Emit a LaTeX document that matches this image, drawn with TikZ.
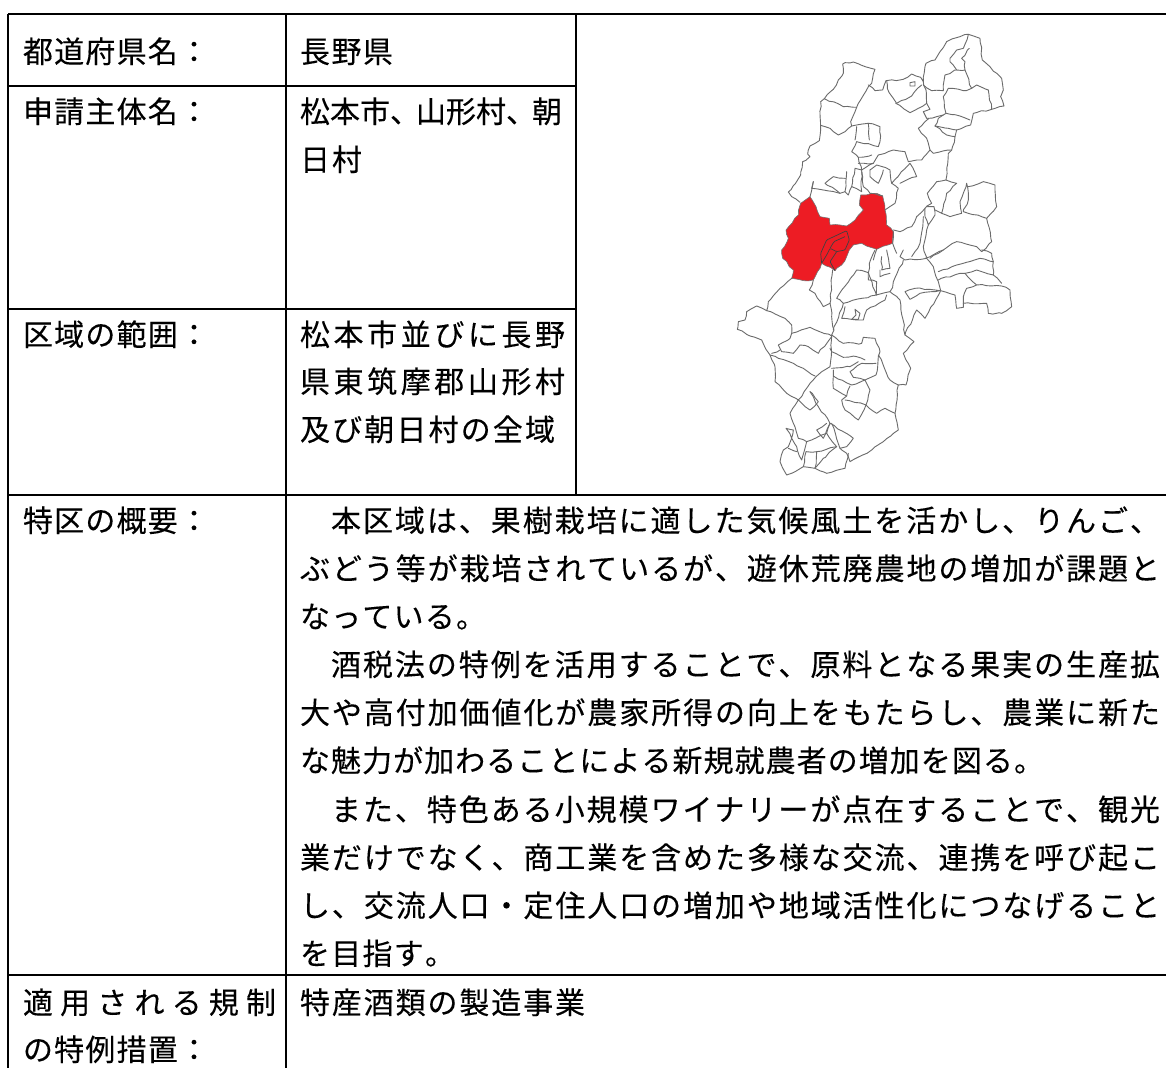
\documentclass[tikz,border=0pt]{standalone}
\usepackage{fontspec}
\usetikzlibrary{decorations.pathmorphing}
\setmainfont[FakeBold=0.2]{Noto Sans CJK JP}
\makeatletter
\def\jspread#1{\let\jsep\relax\@tfor\ch:=#1\do{\jsep\ch\let\jsep\hfil}}
\makeatother
\newcommand\jt[2]{\hbox to #1pt{\jspread{#2}}}
\tikzset{
  rule/.style={line width=2.2pt,black},
  txt/.style={anchor=base west,inner sep=0pt,outer sep=0pt,yshift=-0.7pt,font=\fontsize{30}{31}\selectfont,text=black},
  wob/.style={decorate,decoration={random steps,segment length=5pt,amplitude=0.8pt}},
  ward/.style={line width=0.9pt,black!58,line join=round,line cap=round,wob},
  redward/.style={line width=0.7pt,black!75,line join=round,rounded corners=1pt},
  redarea/.style={fill={rgb,255:red,237;green,28;blue,36},draw=black!55,line width=0.6pt,line join=round,wob},
}
\pgfmathsetseed{7}
\begin{document}
\begin{tikzpicture}[x=1pt,y=-1pt]
\useasboundingbox (0,0) rectangle (1166,1068);
\fill[white] (0,0) rectangle (1166,1068);

% ---- map (coordinates of a 3x grid) ----
\begin{scope}[shift={(730,20)},x=0.3333pt,y=-0.3333pt]
\path[redarea] (240,530)--(258,560)--(270,590)--(298,595)--(300,615)--(350,618)--(375,600)--(400,570)--(388,555)--(392,525)--(440,520)--(458,528)--(465,570)--(470,615)--(490,635)--(488,670)--(440,688)--(395,670)--(370,675)--(358,690)--(350,710)--(335,735)--(315,752)--(275,730)--(250,780)--(220,782)--(185,775)--(190,750)--(158,715)--(155,690)--(175,655)--(168,630)--(205,585)--(212,550)--cycle;
\draw[redward] (275,730)--(272,700)--(290,660)--(350,632)--(358,660)--(345,690)--(320,695)--(300,685)--(290,705)--(275,730);
\draw[redward] (300,685)--(312,665)--(345,650);
\draw[redward] (320,695)--(300,725)--(315,752);
\draw[ward] (338,132)--(345,128)--(370,126)--(395,136)--(435,148)--(425,190)--(415,200)--(380,262)--(340,260)--(283,236)--(310,208)--(325,180)--(340,160)--cycle;
\draw[ward] (283,236)--(272,245)--(272,330)--(268,362)--(240,378)--(233,402)--(240,410)--(218,425)--(212,465)--(190,497)--(175,516)--(185,530)--(210,547);
\draw[ward] (272,316)--(300,325)--(325,345)--(345,335)--(365,318)--(362,305)--(380,262);
\draw[ward] (415,195)--(435,212)--(458,210)--(468,182)--(520,178)--(545,162)--(572,172)--(580,185)--(588,130)--(615,120)--(630,95)--(650,65)--(690,50)--(715,43)--(750,55)--(757,120)--(780,140)--(815,175)--(820,210)--(812,230)--(822,258)--(785,268)--(730,280)--(722,315)--(680,330)--(675,350)--(665,390)--(655,400)--(648,480);
\draw[ward] (470,182)--(472,205)--(490,235)--(500,250)--(545,228)--(575,195);
\draw[ward] (497,250)--(540,278)--(565,265)--(590,250)--(588,210)--(580,185);
\draw[ward] (580,195)--(605,212)--(640,212)--(645,165)--(680,150)--(705,150)--(725,205)--(700,212)--(655,205)--(640,230)--(648,280)--(690,288)--(720,300);
\draw[ward] (725,205)--(740,195)--(775,210)--(785,268);
\draw[ward] (705,150)--(705,125)--(695,115)--(718,85);
\draw[ward] (715,43)--(700,85)--(680,90)--(660,115)--(660,125)--(680,150);
\draw[ward] (590,250)--(600,268)--(580,275)--(590,295)--(620,290)--(640,285)--(648,280);
\draw[ward] (640,285)--(625,295)--(615,318)--(655,325)--(680,330);
\draw[ward] (597,295)--(565,325)--(590,355)--(600,390)--(610,400)--(665,390);
\draw[ward] (615,318)--(650,345)--(675,350);
\draw[ward] (600,390)--(575,420)--(535,425)--(525,395)--(490,390)--(445,405)--(430,430)--(385,430);
\draw[ward] (365,318)--(415,310)--(450,320)--(450,365)--(445,380)--(380,365)--(365,395)--(385,412)--(395,450)--(430,430);
\draw[ward] (415,310)--(418,360);
\draw[ward] (380,320)--(375,360);
\draw[ward] (385,412)--(425,405);
\draw[ward] (395,450)--(375,445)--(365,500)--(395,515)--(395,450);
\draw[ward] (350,455)--(345,515)--(330,520)--(285,490)--(310,470)--(345,475);
\draw[ward] (395,455)--(400,500)--(420,520)--(458,528);
\draw[ward] (420,450)--(440,435)--(480,450)--(485,490)--(505,505)--(495,550)--(465,570);
\draw[ward] (420,450)--(420,470)--(445,490)--(460,450);
\draw[ward] (485,490)--(540,430)--(560,470)--(530,480)--(510,490);
\draw[ward] (250,485)--(245,505)--(280,510)--(330,520);
\draw[ward] (250,485)--(240,530);
\draw[ward] (345,515)--(355,525)--(365,500);
\draw[ward] (648,480)--(620,485)--(592,520)--(605,550)--(585,565)--(560,590)--(545,620)--(510,635)--(490,630);
\draw[ward] (592,560)--(612,560)--(615,585)--(595,615)--(585,590)--(585,565);
\draw[ward] (615,570)--(635,580)--(650,520)--(680,490)--(648,480);
\draw[ward] (635,580)--(660,590)--(695,580)--(690,545)--(710,490)--(715,540)--(700,575)--(770,595)--(785,665);
\draw[ward] (715,500)--(760,485)--(795,495)--(800,560)--(770,595);
\draw[ward] (595,615)--(580,680)--(590,712);
\draw[ward] (580,590)--(570,670)--(545,710);
\draw[ward] (585,715)--(640,690)--(680,665)--(740,680)--(755,695)--(785,665);
\draw[ward] (540,188)--(555,185)--(555,198)--(540,198)--cycle;
\draw[ward] (490,635)--(488,670)--(500,700);
\draw[ward] (440,688)--(430,720);
\end{scope}
\begin{scope}[shift={(730,250)},x=0.3333pt,y=-0.3333pt]
\draw[ward] (520,0)--(510,20)--(525,30)--(590,25)--(610,50)--(625,95)--(632,122)--(585,205)--(560,180)--(525,255)--(510,150)--(480,125);
\draw[ward] (435,0)--(418,40)--(415,90)--(440,95)--(438,135)--(480,125)--(520,30);
\draw[ward] (455,20)--(455,60)--(480,55)--(470,0);
\draw[ward] (450,60)--(450,80)--(480,70);
\draw[ward] (600,25)--(640,0);
\draw[ward] (625,65)--(680,45)--(750,25)--(790,35)--(790,75)--(740,60)--(705,70)--(690,70)--(625,90);
\draw[ward] (705,70)--(740,105)--(710,115)--(700,140)--(700,160)--(770,160)--(775,190)--(815,190)--(845,170)--(840,120)--(815,108)--(740,105);
\draw[ward] (790,75)--(815,100);
\draw[ward] (790,35)--(785,10)--(755,0);
\draw[ward] (632,122)--(675,135)--(680,175)--(700,172)--(700,160);
\draw[ward] (525,125)--(555,115)--(630,122)--(570,130)--(540,148)--cycle;
\draw[ward] (320,145)--(380,60)--(415,68)--(440,135)--(340,160)--cycle;
\draw[ward] (340,160)--(310,240);
\draw[ward] (345,170)--(335,205)--(400,210)--(410,180)--(465,150)--(470,135);
\draw[ward] (375,178)--(390,190)--(385,208)--(365,208)--(378,195)--cycle;
\draw[ward] (308,60)--(300,160)--(305,200)--(312,240)--(305,255)--(300,350)--(258,380);
\draw[ward] (250,90)--(238,120)--(255,130)--(280,170)--(300,160);
\draw[ward] (185,85)--(150,115)--(115,155)--(110,182)--(165,205)--(185,225)--(185,250)--(240,232)--(305,258);
\draw[ward] (110,182)--(80,168)--(50,185)--(45,210)--(25,215)--(22,238)--(60,258)--(95,270)--(120,315)--(135,350)--(135,395)--(170,430)--(205,450)--(240,400)--(258,380);
\draw[ward] (120,315)--(145,325)--(190,340)--(220,355)--(255,378);
\draw[ward] (145,285)--(155,305)--(190,310)--(210,285)--(235,290)--(265,310)--(305,260);
\draw[ward] (145,285)--(180,265)--(185,250);
\draw[ward] (125,310)--(150,300);
\draw[ward] (305,255)--(340,280)--(395,280)--(400,262)--(435,265)--(450,305)--(445,320)--(438,375)--(405,390)--(370,382)--(360,365)--(395,340)--(438,340);
\draw[ward] (300,295)--(305,305)--(340,322)--(380,320)--(405,330);
\draw[ward] (305,355)--(360,350)--(385,335);
\draw[ward] (310,360)--(310,378)--(365,405)--(405,390)--(420,420)--(408,465)--(385,510)--(345,480)--(335,450)--(350,438)--(310,415)--(310,378);
\draw[ward] (350,438)--(360,408);
\draw[ward] (345,450)--(408,465);
\draw[ward] (445,315)--(480,390)--(505,405)--(495,490)--(505,540)--(460,575)--(425,600)--(360,635)--(350,610)--(330,595);
\draw[ward] (505,405)--(528,405)--(542,355)--(520,310)--(552,275)--(525,255);
\draw[ward] (408,465)--(440,490)--(465,475)--(495,490);
\draw[ward] (205,450)--(180,490)--(205,565)--(230,575)--(290,550)--(300,520)--(265,470)--(240,425);
\draw[ward] (205,450)--(240,480)--(265,455)--(240,425);
\draw[ward] (290,520)--(260,540)--(280,565)--(300,520)--(370,565)--(350,590)--(330,595)--(305,520);
\draw[ward] (230,575)--(215,630)--(200,590)--(168,535)--(190,540)--(175,590)--(160,600)--(150,635)--(170,675)--(220,650);
\draw[ward] (175,595)--(200,605);
\draw[ward] (228,605)--(220,650)--(255,655)--(260,605)--cycle;
\draw[ward] (290,550)--(320,590)--(280,625)--(255,655)--(290,670)--(345,655)--(355,610);
\draw[ward] (260,605)--(320,590);
\end{scope}

% ---- table rules ----
\draw[rule] (8,14)--(1166,14);
\draw[rule] (8,86)--(576,86);
\draw[rule] (8,309)--(576,309);
\draw[rule] (8,495)--(1166,495);
\draw[rule] (8,975)--(1166,975);
\draw[rule] (8,14)--(8,1068);
\draw[rule] (286,14)--(286,1068);
\draw[rule] (576,14)--(576,495);

% ---- text ----
\node[txt] (a1) at (23,62) {\jt{186}{都道府県名：}};
\node[txt] (b1) at (300,62) {\jt{93}{長野県}};
\node[txt] (a2) at (23,122) {\jt{186}{申請主体名：}};
\node[txt] (b2) at (300,122) {松本市、\kern-4pt 山形村、\kern-4pt 朝};
\node[txt] (b3) at (300,170) {\jt{62}{日村}};
\node[txt] (a3) at (23,345) {\jt{186}{区域の範囲：}};
\node[txt] (b4) at (300,345) {\jt{265}{松本市並びに長野}};
\node[txt] (b5) at (300,392) {\jt{265}{県東筑摩郡山形村}};
\node[txt] (b6) at (300,440) {\jt{255}{及び朝日村の全域}};
\node[txt] (a4) at (23,531) {\jt{186}{特区の概要：}};
\node[txt] (c1) at (331,531) {\jt{829}{本区域は、果樹栽培に適した気候風土を活かし、りんご、}};
\node[txt] (c2) at (300,579) {\jt{860}{ぶどう等が栽培されているが、遊休荒廃農地の増加が課題と}};
\node[txt] (c3) at (300,627) {\jt{186}{なっている。}};
\node[txt] (c4) at (331,675) {\jt{829}{酒税法の特例を活用することで、原料となる果実の生産拡}};
\node[txt] (c5) at (300,723) {\jt{860}{大や高付加価値化が農家所得の向上をもたらし、農業に新た}};
\node[txt] (c6) at (300,771) {\jt{744}{な魅力が加わることによる新規就農者の増加を図る。}};
\node[txt] (c7) at (331,820) {\jt{829}{また、特色ある小規模ワイナリーが点在することで、観光}};
\node[txt] (c8) at (300,868) {\jt{860}{業だけでなく、商工業を含めた多様な交流、連携を呼び起こ}};
\node[txt] (c9) at (300,916) {\jt{860}{し、交流人口・定住人口の増加や地域活性化につなげること}};
\node[txt] (c10) at (300,964) {\jt{155}{を目指す。}};
\node[txt] (a5) at (23,1013) {\jt{253}{適用される規制}};
\node[txt] (d1) at (300,1013) {\jt{285}{特産酒類の製造事業}};
\node[txt] (a6) at (23,1060) {\jt{186}{の特例措置：}};
\end{tikzpicture}
\end{document}
